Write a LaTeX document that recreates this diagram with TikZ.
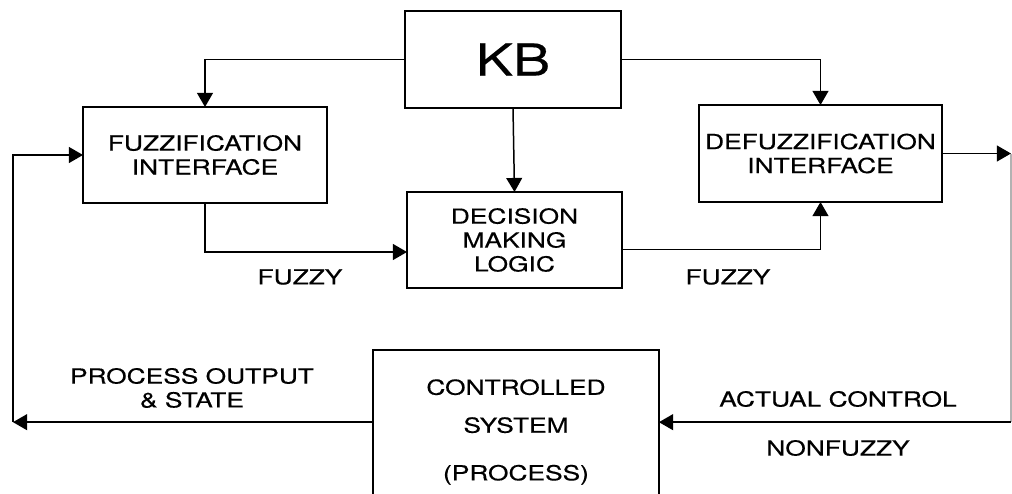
\documentclass[tikz,border=0pt]{standalone}
\usepackage{fontspec}
\setmainfont{TeX Gyre Heros}[FakeStretch=1.27,FakeBold=0.4]
\usetikzlibrary{arrows.meta,calc}

\tikzset{
  block/.style={draw,line width=1.4pt,inner sep=0pt,outer sep=0pt,align=center},
  conn/.style={line width=0.85pt},
  arr/.style={conn,-{Triangle[length=8pt,width=9pt]}},
  lbl/.style={align=center,inner sep=0pt}
}

\begin{document}
\begin{tikzpicture}[x=0.02cm,y=-0.02cm,font=\fontsize{11.8}{13.6}\selectfont]
  \useasboundingbox (0,0) rectangle (1012,494);

  \node[block,minimum width=4.32cm,minimum height=1.94cm,font=\fontsize{25}{30}\selectfont] (kb) at (513,59.5) {KB};
  \node[block,minimum width=4.88cm,minimum height=1.92cm] (fuzz) at (205,155) {FUZZIFICATION\\INTERFACE};
  \node[block,minimum width=4.30cm,minimum height=1.92cm] (dml) at (514.5,240) {DECISION\\MAKING\\LOGIC};
  \node[block,minimum width=4.86cm,minimum height=1.94cm] (defuzz) at (820.5,153.5) {DEFUZZIFICATION\\INTERFACE};
  \node[block,minimum width=5.72cm,minimum height=3.28cm] (plant) at (516,432) {CONTROLLED\\[8pt]SYSTEM\\[13.5pt](PROCESS)};

  \coordinate (r) at (1011,153.5);
  \coordinate (pin) at ($(plant.east)!0.12!(plant.north east)$);
  \coordinate (pout) at ($(plant.west)!0.12!(plant.north west)$);
  \coordinate (rb) at (pin -| r);
  \coordinate (l) at (pout -| 13,0);

  \draw[arr] (kb.west) -| (fuzz.north);
  \draw[arr] (kb.east) -| (defuzz.north);
  \draw[arr] (kb.south) -- (dml.north);
  \draw[arr] (fuzz.south) |- ($(dml.west)!0.25!(dml.south west)$);
  \draw[arr] ($(dml.east)!0.2!(dml.south east)$) -| (defuzz.south);
  \draw[arr] (defuzz.east) -- (r);
  \draw[conn,gray!60] (r) -- (rb);
  \draw[arr] (rb) -- (pin);
  \draw[arr] (pout) -- (l);
  \draw[arr] (l) |- (fuzz.west);

  \node[lbl] (fz1) at (300,277) {FUZZY};
  \node[lbl] (fz2) at (728,277) {FUZZY};
  \node[lbl] (outlbl) at (192,388) {PROCESS OUTPUT\\\& STATE};
  \node[lbl] (act) at (838,399) {ACTUAL CONTROL};
  \node[lbl] (nfz) at (838,448) {NONFUZZY};
\end{tikzpicture}
\end{document}
